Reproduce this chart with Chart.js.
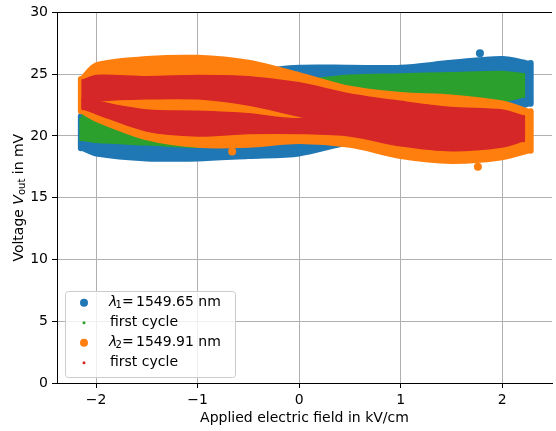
<!DOCTYPE html>
<html><head><meta charset="utf-8">
<script src="https://cdn.jsdelivr.net/npm/chart.js@4/dist/chart.umd.min.js"></script>
<style>html,body{margin:0;padding:0;background:#fff;overflow:hidden}canvas{display:block}</style>
</head><body>
<canvas id="c" width="556" height="431"></canvas>
<script>
// ---- data (envelopes of the dense scatter clouds, mV) ----
const xsWide   = [-2.15, -2.0, -1.5, -1.0, -0.5, 0.0, 0.5, 1.0, 1.5, 2.0, 2.28];
const xsNarrow = [-2.13, -2.0, -1.5, -1.0, -0.5, 0.0, 0.5, 1.0, 1.5, 2.0, 2.21];
const xsGreenLow = [-2.15, -2.0, -1.5, -1.0, -0.5, -0.2];

// lambda1 = 1549.65 nm (all cycles)
const blueUpper = [21.6, 23.0, 24.0, 24.6, 25.2, 25.6, 25.6, 25.6, 26.0, 26.3, 25.9];
const blueLower = [19.0, 18.5, 18.1, 18.1, 18.3, 18.5, 19.4, 19.6, 20.5, 21.8, 22.6];
const blueOutX = [1.78];
const blueOutY = [26.7];

// lambda1 first cycle (two branches)
const greenLowUpper = [21.4, 21.6, 21.0, 20.3, 19.8, 19.9];
const greenLowLower = [19.7, 19.5, 19.3, 19.1, 19.2, 19.4];
const greenHighUpper = [23.0, 23.5, 24.0, 24.3, 24.5, 24.5, 24.9, 25.0, 25.1, 25.2, 25.0];
const greenHighLower = [21.6, 21.6, 22.0, 22.2, 22.5, 23.0, 23.2, 23.0, 22.9, 22.8, 23.2];

// lambda2 = 1549.91 nm (all cycles)
const orangeUpper = [24.6, 25.8, 26.3, 26.4, 26.0, 25.0, 23.9, 23.4, 23.2, 22.7, 22.0];
const orangeLower = [22.0, 21.3, 19.8, 19.2, 19.2, 19.5, 19.2, 18.3, 17.9, 18.2, 18.8];
const orangeOutX = [1.76, -0.66];
const orangeOutY = [17.5, 18.75];

// lambda2 first cycle (two branches)
const redUpUpper  = [24.5, 24.9, 24.8, 24.9, 24.8, 24.3, 23.4, 22.8, 22.3, 22.1, 21.6];
const redUpLower  = [22.3, 22.8, 23.0, 23.0, 22.5, 21.6, 20.8, 20.3, 20.0, 20.0, 20.2];
const redLowUpper = [23.0, 22.8, 22.1, 22.0, 21.8, 21.4, 22.3, 22.0, 21.8, 21.6, 21.2];
const redLowLower = [22.2, 21.8, 20.4, 20.0, 20.2, 20.2, 20.0, 19.2, 18.8, 19.1, 19.6];

const xTicks = [-2, -1, 0, 1, 2];
const xTickLabels = ['\u22122', '\u22121', '0', '1', '2'];
const yTicks = [0, 5, 10, 15, 20, 25, 30];
const legendSymbols = ['λ', '', 'λ', ''];
const legendSubs = ['1', '', '2', ''];
const legendTexts = ['1549.65 nm', 'first cycle', '1549.91 nm', 'first cycle'];
const xTitle = 'Applied electric field in kV/cm';

const C = {blue:'#1f77b4', orange:'#ff7f0e', green:'#2ca02c', red:'#d62728'};

function pts(xs, ys) { return xs.map((x, i) => ({x, y: ys[i]})); }
function edge(data, color, order, bw, fill) {
  return {data, borderColor: color, backgroundColor: color, fill, borderWidth: bw,
          pointRadius: 0, tension: 0.3, order, borderJoinStyle: 'round', borderCapStyle: 'round'};
}
// a band = lower edge + upper edge filled down to the previous (lower) dataset, plus rounded end caps
function band(xs, up, lo, color, order, bw, capW) {
  const n = xs.length - 1;
  return [
    edge(pts(xs, lo), color, order, bw, false),
    edge(pts(xs, up), color, order, bw, '-1'),
    edge([{x: xs[0], y: up[0]}, {x: xs[0], y: lo[0]}], color, order, capW, false),
    edge([{x: xs[n], y: up[n]}, {x: xs[n], y: lo[n]}], color, order, capW, false)
  ];
}
function dotDs(data, color, order, r) {
  return {data, showLine: false, pointRadius: r, pointBackgroundColor: color, pointBorderWidth: 0,
          borderColor: color, backgroundColor: color, order};
}

const FONT = '"DejaVu Sans", sans-serif';

const overlay = {
  id: 'overlay',
  afterDraw(chart) {
    const ctx = chart.ctx, ca = chart.chartArea;
    ctx.save();
    ctx.fillStyle = '#000';
    ctx.textBaseline = 'middle';
    ctx.font = '14px ' + FONT;
    ctx.textAlign = 'center';
    ctx.fillText(xTitle, (ca.left + ca.right) / 2, 418);
    ctx.textAlign = 'left';
    const parts = [['Voltage ', '14px ' + FONT, 0], ['V', 'italic 14px ' + FONT, 0],
                   ['out', '10px ' + FONT, 3], [' in mV', '14px ' + FONT, 0]];
    let total = 0;
    parts.forEach(p => { ctx.font = p[1]; total += ctx.measureText(p[0]).width; });
    ctx.translate(19, (ca.top + ca.bottom) / 2);
    ctx.rotate(-Math.PI / 2);
    let px = -total / 2;
    parts.forEach(p => { ctx.font = p[1]; ctx.fillText(p[0], px, p[2]); px += ctx.measureText(p[0]).width; });
    ctx.restore();

    // legend
    ctx.save();
    const bx = 65.5, by = 291.5, bw = 170, bh = 86, r = 3;
    ctx.beginPath();
    ctx.moveTo(bx + r, by); ctx.lineTo(bx + bw - r, by); ctx.arcTo(bx + bw, by, bx + bw, by + r, r);
    ctx.lineTo(bx + bw, by + bh - r); ctx.arcTo(bx + bw, by + bh, bx + bw - r, by + bh, r);
    ctx.lineTo(bx + r, by + bh); ctx.arcTo(bx, by + bh, bx, by + bh - r, r);
    ctx.lineTo(bx, by + r); ctx.arcTo(bx, by, bx + r, by, r); ctx.closePath();
    ctx.fillStyle = 'rgba(255,255,255,0.8)'; ctx.fill();
    ctx.strokeStyle = '#cccccc'; ctx.lineWidth = 1; ctx.stroke();
    const cols = [C.blue, C.green, C.orange, C.red];
    const rads = [4, 1.5, 4, 1.5];
    ctx.textBaseline = 'middle'; ctx.textAlign = 'left';
    for (let i = 0; i < 4; i++) {
      const y = 302.7 + i * 20;
      ctx.beginPath(); ctx.arc(84, y, rads[i], 0, Math.PI * 2); ctx.fillStyle = cols[i]; ctx.fill();
      ctx.fillStyle = '#000';
      let x = 110;
      if (legendSymbols[i]) {
        ctx.font = 'italic 14px ' + FONT; ctx.fillText(legendSymbols[i], 109, y);
        ctx.font = '10px ' + FONT; ctx.fillText(legendSubs[i], 115.5, y + 3);
        ctx.font = '14px ' + FONT; ctx.fillText('=', 122, y);
        x = 136;
      }
      ctx.font = '14px ' + FONT; ctx.fillText(legendTexts[i], x, y);
    }
    ctx.restore();
  }
};

new Chart(document.getElementById('c'), {
  type: 'line',
  data: {
    datasets: [
      ...band(xsWide, blueUpper, blueLower, C.blue, 8, 4, 6),
      dotDs(pts(blueOutX, blueOutY), C.blue, 7, 4),
      ...band(xsGreenLow, greenLowUpper, greenLowLower, C.green, 6, 2, 3),
      ...band(xsNarrow, greenHighUpper, greenHighLower, C.green, 6, 2, 3),
      ...band(xsWide, orangeUpper, orangeLower, C.orange, 4, 4, 6),
      dotDs(pts(orangeOutX, orangeOutY), C.orange, 3, 4),
      ...band(xsNarrow, redUpUpper, redUpLower, C.red, 2, 1.5, 3),
      ...band(xsNarrow, redLowUpper, redLowLower, C.red, 1, 1.5, 3)
    ]
  },
  options: {
    responsive: false, animation: false, devicePixelRatio: 1,
    events: [],
    layout: {padding: {top: 12, right: 0, left: 0, bottom: 0}},
    plugins: {legend: {display: false}, tooltip: {enabled: false}},
    scales: {
      x: {
        type: 'linear', min: -2.385, max: 2.49, z: 1,
        afterBuildTicks: s => { s.ticks = xTicks.map(v => ({value: v})); },
        afterFit: s => { s.height = 48; },
        ticks: {font: {size: 14, family: FONT}, color: '#000', padding: 4, maxRotation: 0,
                callback: (v) => xTickLabels[xTicks.indexOf(v)]},
        grid: {color: '#b0b0b0', lineWidth: 1, tickLength: 5, tickColor: '#000', tickWidth: 1},
        border: {display: true, color: '#000', width: 1}
      },
      y: {
        type: 'linear', min: 0, max: 30, z: 1,
        afterBuildTicks: s => { s.ticks = yTicks.map(v => ({value: v})); },
        afterFit: s => { s.width = 57; },
        ticks: {font: {size: 14, family: FONT}, color: '#000', padding: 4},
        grid: {color: c => (c.tick && c.tick.value === 30) ? '#000' : '#b0b0b0', lineWidth: 1,
               tickLength: 5, tickColor: '#000', tickWidth: 1},
        border: {display: true, color: '#000', width: 1}
      }
    }
  },
  plugins: [overlay]
});
</script>
</body></html>
